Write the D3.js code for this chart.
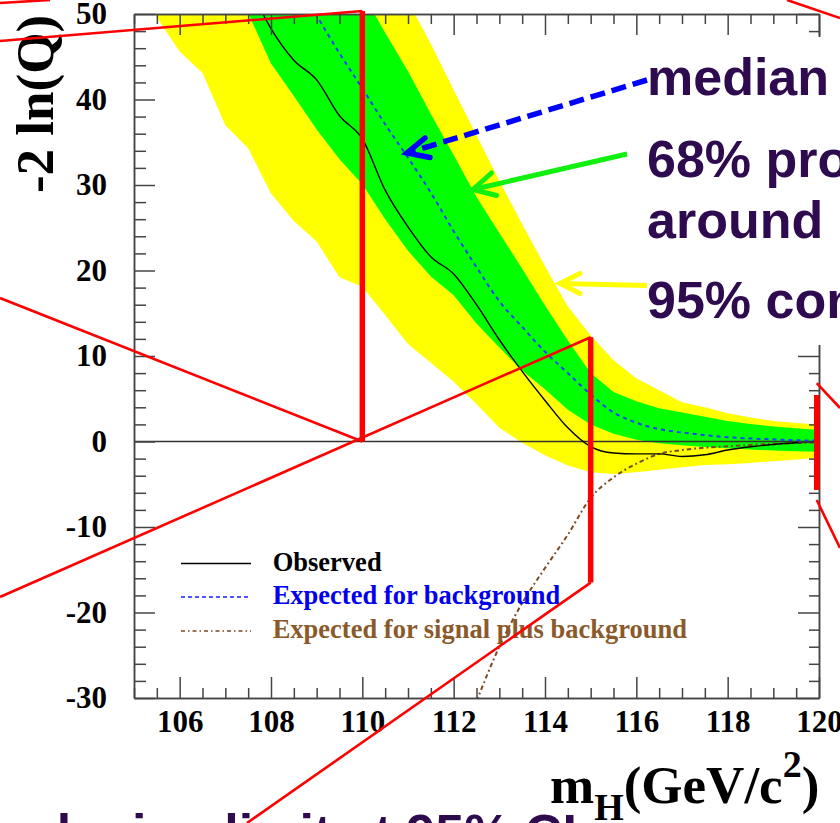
<!DOCTYPE html>
<html>
<head>
<meta charset="utf-8">
<script src="https://cdn.jsdelivr.net/npm/d3@7"></script>
<style>
  html, body { margin: 0; padding: 0; background: #fff; }
  svg { display: block; }
</style>
</head>
<body>
<svg id="chart" width="840" height="823"></svg>
<script>
// Higgs mass hypotheses (GeV/c^2)
const masses = [105, 105.5, 106, 106.5, 107, 107.5, 108, 108.5, 109, 109.5, 110, 110.5,
                111, 111.5, 112, 112.5, 113, 113.5, 114, 114.5, 115, 115.5, 116, 116.5,
                117, 117.5, 118, 118.5, 119, 119.5, 120];

// -2 ln(Q): 95% band (yellow)
const band95Low  = [54.5, 49.6, 45.6, 43.1, 37.0, 34.3, 29.0, 25.8, 23.4, 19.2, 18.1, 14.8,
                    11.4, 9.2, 7.0, 4.4, 1.6, -0.15, -1.6, -2.8, -3.6, -3.8, -3.6, -3.3,
                    -3.0, -2.75, -2.65, -2.5, -2.3, -2.1, -1.9];
const band95High = [95, 92, 89, 86, 82, 79, 75, 72, 68, 64, 60.5, 56,
                    51.5, 46.5, 41.1, 35.8, 30.5, 25.4, 20.5, 15.8, 12.4, 9.5, 7.4, 6.0,
                    4.6, 4.0, 3.3, 2.8, 2.4, 2.15, 2.0];
// -2 ln(Q): 68% band (green)
const band68Low  = [70, 66, 62, 58, 54, 50.1, 44.2, 40.4, 36.5, 33.0, 30.1, 26.0,
                    22.3, 19.3, 17.1, 13.8, 11.0, 8.3, 6.1, 3.7, 2.0, 0.9, 0.2, -0.2,
                    -0.45, -0.65, -0.8, -0.95, -1.05, -1.15, -1.2];
const band68High = [80, 77, 74, 71, 68, 65, 62, 61, 58, 55.5, 52.5, 47.8,
                    43.3, 38.3, 33.5, 28.6, 24.4, 20.2, 15.9, 11.8, 8.0, 5.8, 4.7, 3.9,
                    3.4, 2.9, 2.4, 2.05, 1.75, 1.55, 1.35];
// median expected for background
const medianBkg  = [null, null, null, null, null, null, null, 54.0, 49.8, 45.4, 41.3, 37.1,
                    33.2, 29.1, 24.6, 20.4, 16.4, 13.4, 10.5, 8.0, 5.5, 3.4, 2.2, 1.45,
                    1.05, 0.75, 0.5, 0.35, 0.25, 0.15, 0.1];
// observed
const observed   = [null, null, null, null, null, 53.5, 48.3, 44.6, 42.3, 38.1, 35.4, 29.4,
                    25.1, 21.6, 19.6, 16.0, 11.9, 8.2, 4.8, 1.6, -0.6, -1.35, -1.45, -1.45,
                    -1.75, -1.55, -1.0, -0.62, -0.35, -0.15, 0.0];
// expected for signal plus background
const expectedSB = [null, null, null, null, null, null, null, null, null, null, null, null,
                    null, null, null, -30.4, -24.0, -18.9, -14.8, -10.9, -6.6, -4.2, -2.6, -1.45,
                    -1.0, -0.72, -0.55, -0.4, -0.27, -0.18, -0.1];

// axis ticks
const xTickLabels = [106, 108, 110, 112, 114, 116, 118, 120];
const yTickLabels = [-30, -20, -10, 0, 10, 20, 30, 40, 50];

// legend
const legendLabels = ["Observed", "Expected for background", "Expected for signal plus background"];

// callout text
const noteLines = ["median", "68% probability", "around median", "95% confidence"];
const footerText = "exclusion limit at 95% CL";

// callout markers on the mass axis: mass, top and bottom of the red bar in -2ln(Q) units
const calloutMarks = [
  { m: 110,    top: 50.35, bottom: 0 },
  { m: 115,    top: 12.2,  bottom: -16.5 },
  { m: 119.95, top: 5.44,  bottom: -5.67 }
];

const W = 840, H = 823;
const plot = { left: 134, right: 819, top: 14, bottom: 698 };
const serif = "'Liberation Serif', 'Times New Roman', Times, serif";
const sans = "'Liberation Sans', Arial, Helvetica, sans-serif";
const purple = "#2e0a4f";
const frameColor = "#444";

const svg = d3.select("#chart");
svg.append("rect").attr("width", W).attr("height", H).attr("fill", "#fff");

const x = d3.scaleLinear().domain([105, 120]).range([plot.left, plot.right]);
const y = d3.scaleLinear().domain([-30, 50]).range([plot.bottom, plot.top]);

const rows = masses.map((m, i) => ({
  m,
  lo95: band95Low[i], hi95: band95High[i],
  lo68: band68Low[i], hi68: band68High[i],
  med: medianBkg[i], obs: observed[i], sb: expectedSB[i]
}));

svg.append("defs").append("clipPath").attr("id", "plotClip")
  .append("rect")
  .attr("x", plot.left).attr("y", plot.top)
  .attr("width", plot.right - plot.left).attr("height", plot.bottom - plot.top);

const g = svg.append("g").attr("clip-path", "url(#plotClip)");

const band = (lo, hi) => d3.area()
  .x(d => x(d.m)).y0(d => y(d[lo])).y1(d => y(d[hi]));

g.append("path").datum(rows).attr("d", band("lo95", "hi95")).attr("fill", "#ffff00");
g.append("path").datum(rows).attr("d", band("lo68", "hi68")).attr("fill", "#00ff00");

// zero reference line
g.append("line")
  .attr("x1", plot.left).attr("x2", plot.right)
  .attr("y1", y(0)).attr("y2", y(0))
  .attr("stroke", "#333").attr("stroke-width", 1.4);

const curve = key => d3.line()
  .defined(d => d[key] != null)
  .x(d => x(d.m)).y(d => y(d[key]))
  .curve(d3.curveMonotoneX);

g.append("path").datum(rows).attr("d", curve("sb"))
  .attr("fill", "none").attr("stroke", "#7a4a22").attr("stroke-width", 2)
  .attr("stroke-dasharray", "4.5,3,1.8,3");
g.append("path").datum(rows).attr("d", curve("med"))
  .attr("fill", "none").attr("stroke", "#1240ff").attr("stroke-width", 2)
  .attr("stroke-dasharray", "4,4");
g.append("path").datum(rows).attr("d", curve("obs"))
  .attr("fill", "none").attr("stroke", "#000").attr("stroke-width", 1.4);

// axes with inward ticks
const xMinor = d3.range(105, 120.001, 0.5).filter(v => !xTickLabels.includes(v));
const yMinor = d3.range(-30, 50.001, 2).filter(v => !yTickLabels.includes(v));

function styleAxis(sel) {
  sel.attr("font-family", serif).attr("font-size", 31).attr("font-weight", "bold");
  sel.selectAll("line, path").attr("stroke", frameColor).attr("stroke-width", 1.5);
  sel.selectAll("text").attr("fill", "#000");
}

svg.append("g").attr("transform", `translate(0,${plot.bottom})`)
  .call(d3.axisBottom(x).tickValues(xTickLabels).tickSize(-21).tickSizeOuter(0)
    .tickPadding(12).tickFormat(d => String(d)))
  .call(styleAxis);
svg.append("g").attr("transform", `translate(0,${plot.bottom})`)
  .call(d3.axisBottom(x).tickValues(xMinor).tickSize(-10).tickSizeOuter(0).tickFormat(""))
  .call(styleAxis);
svg.append("g").attr("transform", `translate(0,${plot.top})`)
  .call(d3.axisTop(x).tickValues(xTickLabels).tickSize(-21).tickSizeOuter(0).tickFormat(""))
  .call(styleAxis);
svg.append("g").attr("transform", `translate(0,${plot.top})`)
  .call(d3.axisTop(x).tickValues(xMinor).tickSize(-10).tickSizeOuter(0).tickFormat(""))
  .call(styleAxis);
svg.append("g").attr("transform", `translate(${plot.left},0)`)
  .call(d3.axisLeft(y).tickValues(yTickLabels).tickSize(-21).tickSizeOuter(0)
    .tickPadding(27).tickFormat(d => String(d)))
  .call(styleAxis);
svg.append("g").attr("transform", `translate(${plot.left},0)`)
  .call(d3.axisLeft(y).tickValues(yMinor).tickSize(-12).tickSizeOuter(0).tickFormat(""))
  .call(styleAxis);
svg.append("g").attr("transform", `translate(${plot.right},0)`)
  .call(d3.axisRight(y).tickValues(yTickLabels).tickSize(-21).tickSizeOuter(0).tickFormat(""))
  .call(styleAxis);
svg.append("g").attr("transform", `translate(${plot.right},0)`)
  .call(d3.axisRight(y).tickValues(yMinor).tickSize(-10).tickSizeOuter(0).tickFormat(""))
  .call(styleAxis);

// axis titles
svg.append("text")
  .attr("transform", "translate(53,104) rotate(-90)")
  .attr("text-anchor", "middle")
  .attr("font-family", serif).attr("font-weight", "bold").attr("font-size", 53)
  .text("-2 ln(Q)");

const xt = svg.append("text")
  .attr("x", 550).attr("y", 803)
  .attr("font-family", serif).attr("font-weight", "bold").attr("font-size", 53);
xt.append("tspan").text("m");
xt.append("tspan").attr("font-size", 38).attr("dy", 17).text("H");
xt.append("tspan").attr("dy", -17).text("(GeV/c");
xt.append("tspan").attr("font-size", 38).attr("dy", -26).text("2");
xt.append("tspan").attr("dy", 26).text(")");

// legend
const legendStyles = [
  { color: "#000",    text: "#000",    dash: null,          y: 563.5 },
  { color: "#1a1aff", text: "#0000ee", dash: "4,3",         y: 597 },
  { color: "#7a4a22", text: "#8b5a2b", dash: "4,3,1.5,3",   y: 631 }
];
const legend = svg.append("g");
legendLabels.forEach((label, i) => {
  const s = legendStyles[i];
  legend.append("line")
    .attr("x1", 181).attr("x2", 251).attr("y1", s.y).attr("y2", s.y)
    .attr("stroke", s.color).attr("stroke-width", 1.4)
    .attr("stroke-dasharray", s.dash);
  legend.append("text")
    .attr("x", 272.7).attr("y", s.y + 7.3)
    .attr("font-family", serif).attr("font-weight", "bold").attr("font-size", 26.5)
    .attr("fill", s.text)
    .text(label);
});

// callout panel on the right
svg.append("rect").attr("x", 638).attr("y", 37).attr("width", 202).attr("height", 308)
  .attr("fill", "#fff");

const notes = svg.append("g")
  .attr("font-family", sans).attr("font-weight", "bold").attr("font-size", 52)
  .attr("fill", purple);
const noteBaselines = [95, 176.7, 238, 318];
noteLines.forEach((t, i) => {
  notes.append("text").attr("x", 647).attr("y", noteBaselines[i]).text(t);
});

svg.append("text")
  .attr("x", -30).attr("y", 851)
  .attr("font-family", sans).attr("font-weight", "bold").attr("font-size", 52)
  .attr("fill", purple)
  .text(footerText);

// pointer arrows
function arrow(color, width, dash, from, tip, armA, armB) {
  const a = svg.append("g").attr("stroke", color).attr("fill", "none")
    .attr("stroke-width", width).attr("stroke-linecap", "butt");
  a.append("line")
    .attr("x1", from[0]).attr("y1", from[1]).attr("x2", tip[0]).attr("y2", tip[1])
    .attr("stroke-dasharray", dash);
  a.append("path")
    .attr("d", `M${armA[0]},${armA[1]}L${tip[0]},${tip[1]}L${armB[0]},${armB[1]}`)
    .attr("stroke-linejoin", "miter").attr("stroke-linecap", "round");
}
arrow("#0000ff", 5.5, "15,7", [647, 80], [407, 153], [425, 138], [430, 157.5]);
arrow("#11f011", 5, null, [627, 154], [473, 189.5], [491.5, 173], [496.5, 195.5]);
arrow("#ffff00", 5, null, [647, 285.5], [560, 283.5], [580, 273.5], [580, 293.5]);

// red zoom callout overlay
const red = svg.append("g").attr("stroke", "#ff0000").attr("fill", "none");
const thin = 2.6, thick = 5.5;
const m0 = calloutMarks[0], m1 = calloutMarks[1], m2 = calloutMarks[2];
calloutMarks.forEach(c => {
  red.append("line")
    .attr("x1", x(c.m)).attr("x2", x(c.m))
    .attr("y1", y(c.top)).attr("y2", y(c.bottom))
    .attr("stroke-width", thick);
});
const seg = (x1, y1, x2, y2) => red.append("line")
  .attr("x1", x1).attr("y1", y1).attr("x2", x2).attr("y2", y2).attr("stroke-width", thin);
seg(0, 3, 50, 0);
seg(787, 0, 840, 18);
seg(0, 41, x(m0.m), y(m0.top));
seg(0, 298, x(m0.m), y(m0.bottom));
seg(0, 597, x(m1.m), y(m1.top));
seg(x(m1.m), y(m1.bottom), 247, 823);
seg(x(m2.m), y(6.84), 840, 408);
seg(x(m2.m), y(-6.84), 840, 548);
</script>
</body>
</html>
